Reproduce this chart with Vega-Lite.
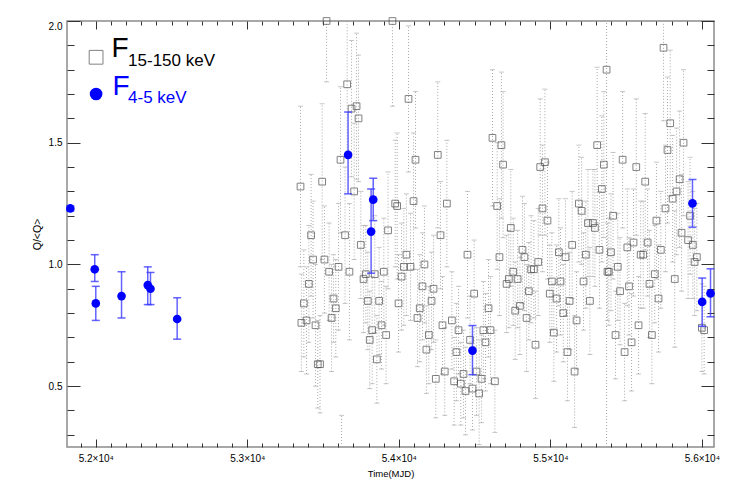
{
"$schema":"https://vega.github.io/schema/vega-lite/v6.json",
"width":647,"height":426,
"autosize":{"type":"none"},
"padding":{"left":67,"top":21,"right":22,"bottom":43},
"background":"white",
"config":{"view":{"stroke":"#8c8c8c","strokeWidth":1.5},"font":"Liberation Sans",
 "axis":{"grid":false,"domain":false,"ticks":true,"tickOpacity":1,"zindex":1,"tickColor":"#333333","tickWidth":1,"labelColor":"#000000","labelFont":"Liberation Sans","titleFont":"Liberation Sans","titleFontWeight":"normal","titleColor":"#000000"}},
"datasets":{
"grey":[
{"t":53523,"q":2.00,"lo":1.75,"hi":2.0},{"t":53958,"q":2.00,"lo":1.65,"hi":2.0},{"t":53659,"q":1.74,"lo":1.44,"hi":2.0},{"t":53688,"q":1.64,"lo":1.36,"hi":1.92},{"t":53721,"q":1.65,"lo":1.35,"hi":1.95},{"t":53734,"q":1.60,"lo":1.34,"hi":1.86},{"t":53615,"q":1.43,"lo":1.13,"hi":1.73},{"t":53494,"q":1.34,"lo":1.02,"hi":1.66},{"t":53351,"q":1.32,"lo":0.99,"hi":1.65},{"t":53705,"q":1.30,"lo":1.02,"hi":1.58},{"t":53976,"q":1.25,"lo":0.99,"hi":1.51},{"t":53989,"q":1.24,"lo":0.94,"hi":1.54},{"t":53421,"q":1.12,"lo":0.87,"hi":1.37},{"t":53645,"q":1.12,"lo":0.84,"hi":1.40},{"t":53929,"q":1.14,"lo":0.90,"hi":1.38},{"t":53749,"q":1.08,"lo":0.86,"hi":1.30},{"t":53434,"q":1.02,"lo":0.78,"hi":1.26},{"t":53509,"q":1.02,"lo":0.80,"hi":1.24},{"t":53540,"q":0.97,"lo":0.77,"hi":1.17},{"t":53602,"q":0.99,"lo":0.73,"hi":1.25},{"t":53674,"q":0.97,"lo":0.69,"hi":1.25},{"t":53782,"q":0.96,"lo":0.76,"hi":1.16},{"t":53767,"q":0.94,"lo":0.72,"hi":1.16},{"t":53841,"q":0.96,"lo":0.72,"hi":1.20},{"t":53901,"q":0.97,"lo":0.75,"hi":1.19},{"t":53406,"q":0.92,"lo":0.68,"hi":1.16},{"t":53373,"q":0.84,"lo":0.62,"hi":1.06},{"t":53569,"q":0.86,"lo":0.68,"hi":1.04},{"t":53584,"q":0.82,"lo":0.62,"hi":1.02},{"t":53556,"q":0.78,"lo":0.56,"hi":1.00},{"t":53357,"q":0.76,"lo":0.56,"hi":0.96},{"t":53391,"q":0.77,"lo":0.55,"hi":0.99},{"t":53450,"q":0.75,"lo":0.50,"hi":1.00},{"t":53795,"q":0.85,"lo":0.65,"hi":1.05},{"t":53870,"q":0.85,"lo":0.63,"hi":1.07},{"t":53998,"q":0.84,"lo":0.64,"hi":1.04},{"t":53886,"q":0.75,"lo":0.57,"hi":0.93},{"t":53824,"q":0.73,"lo":0.51,"hi":0.95},{"t":53916,"q":0.71,"lo":0.51,"hi":0.91},{"t":53808,"q":0.69,"lo":0.49,"hi":0.89},{"t":53855,"q":0.61,"lo":0.43,"hi":0.79},{"t":53465,"q":0.59,"lo":0.41,"hi":0.77},{"t":53480,"q":0.59,"lo":0.39,"hi":0.79},{"t":53622,"q":0.15,"lo":0.25,"hi":0.38},
{"t":54064,"q":1.68,"lo":1.38,"hi":1.98},{"t":54110,"q":1.43,"lo":1.15,"hi":1.71},{"t":54257,"q":1.45,"lo":1.15,"hi":1.75},{"t":54618,"q":1.52,"lo":1.24,"hi":1.80},{"t":54677,"q":1.49,"lo":1.19,"hi":1.79},{"t":54688,"q":1.41,"lo":1.11,"hi":1.71},{"t":54097,"q":1.26,"lo":0.98,"hi":1.54},{"t":54317,"q":1.25,"lo":0.99,"hi":1.51},{"t":54649,"q":1.24,"lo":0.98,"hi":1.50},{"t":54275,"q":1.12,"lo":0.90,"hi":1.34},{"t":54050,"q":1.04,"lo":0.79,"hi":1.29},{"t":54033,"q":0.99,"lo":0.75,"hi":1.23},{"t":54077,"q":0.99,"lo":0.77,"hi":1.21},{"t":54169,"q":1.00,"lo":0.76,"hi":1.24},{"t":54018,"q":0.95,"lo":0.73,"hi":1.17},{"t":54453,"q":1.04,"lo":0.78,"hi":1.30},{"t":54664,"q":1.03,"lo":0.79,"hi":1.27},{"t":54156,"q":0.91,"lo":0.69,"hi":1.13},{"t":54229,"q":0.90,"lo":0.68,"hi":1.12},{"t":54216,"q":0.85,"lo":0.65,"hi":1.05},{"t":54138,"q":0.82,"lo":0.60,"hi":1.04},{"t":54123,"q":0.78,"lo":0.58,"hi":0.98},{"t":54497,"q":0.88,"lo":0.66,"hi":1.10},{"t":54592,"q":0.82,"lo":0.62,"hi":1.02},{"t":54288,"q":0.75,"lo":0.55,"hi":0.95},{"t":54350,"q":0.77,"lo":0.57,"hi":0.97},{"t":54394,"q":0.73,"lo":0.55,"hi":0.91},{"t":54198,"q":0.71,"lo":0.51,"hi":0.91},{"t":54470,"q":0.69,"lo":0.51,"hi":0.87},{"t":54558,"q":0.73,"lo":0.53,"hi":0.93},{"t":54605,"q":0.73,"lo":0.51,"hi":0.95},{"t":54572,"q":0.68,"lo":0.48,"hi":0.88},{"t":54182,"q":0.65,"lo":0.47,"hi":0.83},{"t":54380,"q":0.64,"lo":0.44,"hi":0.84},{"t":54244,"q":0.53,"lo":0.37,"hi":0.69},{"t":54303,"q":0.56,"lo":0.38,"hi":0.74},{"t":54427,"q":0.55,"lo":0.37,"hi":0.73},{"t":54513,"q":0.56,"lo":0.38,"hi":0.74},{"t":54365,"q":0.52,"lo":0.34,"hi":0.70},{"t":54409,"q":0.51,"lo":0.34,"hi":0.68},{"t":54440,"q":0.48,"lo":0.30,"hi":0.66},{"t":54486,"q":0.49,"lo":0.32,"hi":0.66},{"t":54530,"q":0.47,"lo":0.26,"hi":0.69},{"t":54546,"q":0.53,"lo":0.35,"hi":0.71},{"t":54634,"q":0.52,"lo":0.31,"hi":0.73},
{"t":55371,"q":1.80,"lo":0.25,"hi":2.0},{"t":55309,"q":1.49,"lo":1.17,"hi":1.81},{"t":55353,"q":1.41,"lo":1.11,"hi":1.71},{"t":54933,"q":1.40,"lo":1.12,"hi":1.68},{"t":54964,"q":1.42,"lo":1.12,"hi":1.72},{"t":55340,"q":1.31,"lo":1.01,"hi":1.61},{"t":54948,"q":1.23,"lo":0.97,"hi":1.49},{"t":54981,"q":1.18,"lo":0.94,"hi":1.42},{"t":55188,"q":1.25,"lo":1.01,"hi":1.49},{"t":55206,"q":1.22,"lo":1.00,"hi":1.44},{"t":55248,"q":1.17,"lo":0.95,"hi":1.39},{"t":55281,"q":1.17,"lo":0.95,"hi":1.39},{"t":55294,"q":1.15,"lo":0.91,"hi":1.39},{"t":54739,"q":1.15,"lo":0.91,"hi":1.39},{"t":54816,"q":1.06,"lo":0.84,"hi":1.28},{"t":54829,"q":1.03,"lo":0.81,"hi":1.25},{"t":55056,"q":1.05,"lo":0.83,"hi":1.27},{"t":55100,"q":1.03,"lo":0.79,"hi":1.27},{"t":55144,"q":1.08,"lo":0.86,"hi":1.30},{"t":55234,"q":1.04,"lo":0.82,"hi":1.26},{"t":55324,"q":1.06,"lo":0.82,"hi":1.30},{"t":54920,"q":1.01,"lo":0.79,"hi":1.23},{"t":54755,"q":0.97,"lo":0.75,"hi":1.19},{"t":54726,"q":0.94,"lo":0.74,"hi":1.14},{"t":54711,"q":0.92,"lo":0.72,"hi":1.12},{"t":54784,"q":0.94,"lo":0.74,"hi":1.14},{"t":54873,"q":0.98,"lo":0.76,"hi":1.20},{"t":54891,"q":0.98,"lo":0.78,"hi":1.18},{"t":55010,"q":0.93,"lo":0.73,"hi":1.13},{"t":55067,"q":0.93,"lo":0.71,"hi":1.15},{"t":55219,"q":0.93,"lo":0.73,"hi":1.13},{"t":54858,"q":0.89,"lo":0.69,"hi":1.09},{"t":54996,"q":0.88,"lo":0.68,"hi":1.08},{"t":55041,"q":0.86,"lo":0.64,"hi":1.08},{"t":55127,"q":0.85,"lo":0.65,"hi":1.05},{"t":55261,"q":0.85,"lo":0.63,"hi":1.07},{"t":54799,"q":0.83,"lo":0.63,"hi":1.03},{"t":54768,"q":0.81,"lo":0.61,"hi":1.01},{"t":54843,"q":0.78,"lo":0.56,"hi":1.00},{"t":55085,"q":0.80,"lo":0.60,"hi":1.00},{"t":55173,"q":0.77,"lo":0.57,"hi":0.97},{"t":55023,"q":0.72,"lo":0.52,"hi":0.92},{"t":54902,"q":0.67,"lo":0.45,"hi":0.89},{"t":55113,"q":0.64,"lo":0.44,"hi":0.84},{"t":55160,"q":0.56,"lo":0.33,"hi":0.79},
{"t":55747,"q":1.89,"lo":1.59,"hi":2.0},{"t":55791,"q":1.58,"lo":1.28,"hi":1.88},{"t":55879,"q":1.50,"lo":1.20,"hi":1.80},{"t":55773,"q":1.47,"lo":1.17,"hi":1.77},{"t":55477,"q":1.43,"lo":1.15,"hi":1.71},{"t":55567,"q":1.40,"lo":1.12,"hi":1.68},{"t":55626,"q":1.34,"lo":1.06,"hi":1.62},{"t":55853,"q":1.35,"lo":1.07,"hi":1.63},{"t":55833,"q":1.30,"lo":1.04,"hi":1.56},{"t":55807,"q":1.27,"lo":1.01,"hi":1.53},{"t":55760,"q":1.23,"lo":0.97,"hi":1.49},{"t":55414,"q":1.20,"lo":0.94,"hi":1.46},{"t":55922,"q":1.20,"lo":0.96,"hi":1.44},{"t":55700,"q":1.18,"lo":0.94,"hi":1.42},{"t":55866,"q":1.13,"lo":0.89,"hi":1.37},{"t":55729,"q":1.06,"lo":0.82,"hi":1.30},{"t":55909,"q":1.10,"lo":0.86,"hi":1.34},{"t":55940,"q":1.08,"lo":0.86,"hi":1.30},{"t":55400,"q":1.05,"lo":0.81,"hi":1.29},{"t":55508,"q":1.07,"lo":0.83,"hi":1.31},{"t":55549,"q":1.09,"lo":0.87,"hi":1.31},{"t":55642,"q":1.09,"lo":0.87,"hi":1.31},{"t":55596,"q":1.04,"lo":0.82,"hi":1.26},{"t":55613,"q":1.04,"lo":0.82,"hi":1.26},{"t":55967,"q":1.03,"lo":0.81,"hi":1.25},{"t":55952,"q":1.01,"lo":0.79,"hi":1.23},{"t":55445,"q":0.99,"lo":0.77,"hi":1.21},{"t":55377,"q":0.97,"lo":0.77,"hi":1.17},{"t":55386,"q":0.97,"lo":0.75,"hi":1.19},{"t":55689,"q":0.96,"lo":0.76,"hi":1.16},{"t":55821,"q":0.94,"lo":0.66,"hi":1.22},{"t":55654,"q":0.92,"lo":0.70,"hi":1.14},{"t":55519,"q":0.91,"lo":0.71,"hi":1.11},{"t":55460,"q":0.89,"lo":0.67,"hi":1.11},{"t":55714,"q":0.86,"lo":0.64,"hi":1.08},{"t":55582,"q":0.75,"lo":0.55,"hi":0.95},{"t":55430,"q":0.71,"lo":0.53,"hi":0.89},{"t":55670,"q":0.71,"lo":0.51,"hi":0.91},{"t":55536,"q":0.68,"lo":0.48,"hi":0.88},{"t":55490,"q":0.64,"lo":0.44,"hi":0.84},{"t":56000,"q":0.74,"lo":0.56,"hi":0.92},{"t":56015,"q":0.73,"lo":0.55,"hi":0.91}
],
"blue":[
{"t":51832,"q":1.23,"lo":1.22,"hi":1.24},{"t":51993,"q":0.98,"lo":0.93,"hi":1.04},{"t":52000,"q":0.84,"lo":0.77,"hi":0.91},{"t":52170,"q":0.87,"lo":0.78,"hi":0.97},{"t":52343,"q":0.915,"lo":0.835,"hi":0.99},{"t":52361,"q":0.90,"lo":0.835,"hi":0.967},{"t":52537,"q":0.776,"lo":0.693,"hi":0.863},{"t":53665,"q":1.45,"lo":1.29,"hi":1.626},{"t":53831,"q":1.266,"lo":1.18,"hi":1.354},{"t":53817,"q":1.135,"lo":0.964,"hi":1.31},{"t":54486,"q":0.646,"lo":0.547,"hi":0.749},{"t":55938,"q":1.251,"lo":1.153,"hi":1.349},{"t":56002,"q":0.846,"lo":0.746,"hi":0.944},{"t":56057,"q":0.881,"lo":0.785,"hi":0.982}
]},
"resolve":{"axis":{"x":"independent","y":"independent"}},
"layer":[
{"data":{"name":"grey"},
 "mark":{"type":"rule","color":"#a8a8a8","strokeDash":[1,2],"strokeWidth":1},
 "encoding":{
  "x":{"field":"t","type":"quantitative","scale":{"domain":[51810,56080],"nice":false,"zero":false},
   "axis":{"orient":"bottom","offset":-8,"values":[51900,52000,52100,52200,52300,52400,52500,52600,52700,52800,52900,53000,53100,53200,53300,53400,53500,53600,53700,53800,53900,54000,54100,54200,54300,54400,54500,54600,54700,54800,54900,55000,55100,55200,55300,55400,55500,55600,55700,55800,55900,56000],
    "labelExpr":"datum.value % 1000 === 0 ? format(datum.value/10000,'.1f') + '×10⁴' : ''",
    "ticks":true,"tickSize":8,"tickDash":{"condition":{"test":"datum.value % 1000 !== 0","value":[0,4,4,100]},"value":[]},
    "labelPadding":6,"labelFontSize":10,"labelFlush":false,"title":"Time(MJD)","titleFontSize":9.5,"titlePadding":5}},
  "y":{"field":"lo","type":"quantitative","scale":{"domain":[0.25,2.0],"nice":false,"zero":false},
   "axis":{"orient":"left","offset":-13,"values":[0.3,0.4,0.5,0.6,0.7,0.8,0.9,1.0,1.1,1.2,1.3,1.4,1.5,1.6,1.7,1.8,1.9,2.0],
    "labelExpr":"abs(datum.value*2 - round(datum.value*2)) < 0.001 ? format(datum.value,'.1f') : ''",
    "ticks":true,"tickSize":13,"tickDash":{"condition":{"test":"abs(datum.value*2 - round(datum.value*2)) > 0.001","value":[0,6,7,100]},"value":[]},
    "labelPadding":5,"labelFontSize":10,"labelFlush":true,"title":"Q/<Q>","titleFontSize":10.5,"titlePadding":6}},
  "y2":{"field":"hi"}}},
{"data":{"name":"grey"},
 "transform":[{"filter":"datum.lo > 0.25"}],
 "mark":{"type":"point","shape":"M-1,0L1,0","filled":false,"stroke":"#b0b0b0","strokeWidth":1,"size":25},
 "encoding":{
  "x":{"field":"t","type":"quantitative","scale":{"domain":[51810,56080],"nice":false,"zero":false},"axis":null},
  "y":{"field":"lo","type":"quantitative","scale":{"domain":[0.25,2.0],"nice":false,"zero":false},"axis":null}}},
{"data":{"name":"grey"},
 "transform":[{"filter":"datum.hi < 2.0"}],
 "mark":{"type":"point","shape":"M-1,0L1,0","filled":false,"stroke":"#b0b0b0","strokeWidth":1,"size":25},
 "encoding":{
  "x":{"field":"t","type":"quantitative","scale":{"domain":[51810,56080],"nice":false,"zero":false},"axis":null},
  "y":{"field":"hi","type":"quantitative","scale":{"domain":[0.25,2.0],"nice":false,"zero":false},"axis":null}}},
{"data":{"name":"grey"},
 "transform":[{"filter":"datum.q >= 0.25"}],
 "mark":{"type":"point","shape":"square","filled":false,"stroke":"#4d4d4d","strokeWidth":1,"size":45},
 "encoding":{
  "x":{"field":"t","type":"quantitative","scale":{"domain":[51810,56080],"nice":false,"zero":false},"axis":null},
  "y":{"field":"q","type":"quantitative","scale":{"domain":[0.25,2.0],"nice":false,"zero":false},"axis":null}}},
{"data":{"name":"blue"},
 "mark":{"type":"rule","color":"#3c3cff","opacity":0.8,"strokeWidth":1.5},
 "encoding":{
  "x":{"field":"t","type":"quantitative","scale":{"domain":[51810,56080],"nice":false,"zero":false},"axis":null},
  "y":{"field":"lo","type":"quantitative","scale":{"domain":[0.25,2.0],"nice":false,"zero":false},"axis":null},
  "y2":{"field":"hi"}}},
{"data":{"name":"blue"},
 "mark":{"type":"point","shape":"M-1,0L1,0","filled":false,"stroke":"#3c3cff","opacity":0.8,"strokeWidth":1.5,"size":64},
 "encoding":{
  "x":{"field":"t","type":"quantitative","scale":{"domain":[51810,56080],"nice":false,"zero":false},"axis":null},
  "y":{"field":"lo","type":"quantitative","scale":{"domain":[0.25,2.0],"nice":false,"zero":false},"axis":null}}},
{"data":{"name":"blue"},
 "mark":{"type":"point","shape":"M-1,0L1,0","filled":false,"stroke":"#3c3cff","opacity":0.8,"strokeWidth":1.5,"size":64},
 "encoding":{
  "x":{"field":"t","type":"quantitative","scale":{"domain":[51810,56080],"nice":false,"zero":false},"axis":null},
  "y":{"field":"hi","type":"quantitative","scale":{"domain":[0.25,2.0],"nice":false,"zero":false},"axis":null}}},
{"data":{"name":"blue"},
 "mark":{"type":"circle","color":"#0000ff","opacity":1,"size":75},
 "encoding":{
  "x":{"field":"t","type":"quantitative","scale":{"domain":[51810,56080],"nice":false,"zero":false},
   "axis":{"orient":"top","offset":-8,"values":[51900,52000,52100,52200,52300,52400,52500,52600,52700,52800,52900,53000,53100,53200,53300,53400,53500,53600,53700,53800,53900,54000,54100,54200,54300,54400,54500,54600,54700,54800,54900,55000,55100,55200,55300,55400,55500,55600,55700,55800,55900,56000],
    "ticks":true,"tickSize":8,"tickDash":{"condition":{"test":"datum.value % 1000 !== 0","value":[0,4,4,100]},"value":[]},"labels":false,"title":null}},
  "y":{"field":"q","type":"quantitative","scale":{"domain":[0.25,2.0],"nice":false,"zero":false},
   "axis":{"orient":"right","offset":-13,"values":[0.3,0.4,0.5,0.6,0.7,0.8,0.9,1.0,1.1,1.2,1.3,1.4,1.5,1.6,1.7,1.8,1.9,2.0],
    "ticks":true,"tickSize":13,"tickDash":{"condition":{"test":"abs(datum.value*2 - round(datum.value*2)) > 0.001","value":[0,6,7,100]},"value":[]},"labels":false,"title":null}}}},
{"data":{"values":[{}]},
 "mark":{"type":"point","shape":"square","filled":false,"stroke":"#4d4d4d","strokeWidth":1,"size":190},
 "encoding":{"x":{"datum":52002,"type":"quantitative","axis":null},"y":{"datum":1.851,"type":"quantitative","axis":null}}},
{"data":{"values":[{}]},
 "mark":{"type":"circle","color":"#0000ff","opacity":1,"size":160},
 "encoding":{"x":{"datum":52002,"type":"quantitative","axis":null},"y":{"datum":1.700,"type":"quantitative","axis":null}}},
{"data":{"values":[{}]},
 "mark":{"type":"text","text":"F","align":"left","baseline":"alphabetic","fontSize":28,"color":"#000000"},
 "encoding":{"x":{"datum":52104,"type":"quantitative","axis":null},"y":{"datum":1.851,"type":"quantitative","axis":null}}},
{"data":{"values":[{}]},
 "mark":{"type":"text","text":"15-150 keV","align":"left","baseline":"alphabetic","fontSize":17,"color":"#000000"},
 "encoding":{"x":{"datum":52213,"type":"quantitative","axis":null},"y":{"datum":1.816,"type":"quantitative","axis":null}}},
{"data":{"values":[{}]},
 "mark":{"type":"text","text":"F","align":"left","baseline":"alphabetic","fontSize":28,"color":"#0000ff"},
 "encoding":{"x":{"datum":52110,"type":"quantitative","axis":null},"y":{"datum":1.695,"type":"quantitative","axis":null}}},
{"data":{"values":[{}]},
 "mark":{"type":"text","text":"4-5 keV","align":"left","baseline":"alphabetic","fontSize":17,"color":"#0000ff"},
 "encoding":{"x":{"datum":52213,"type":"quantitative","axis":null},"y":{"datum":1.665,"type":"quantitative","axis":null}}}
]
}
